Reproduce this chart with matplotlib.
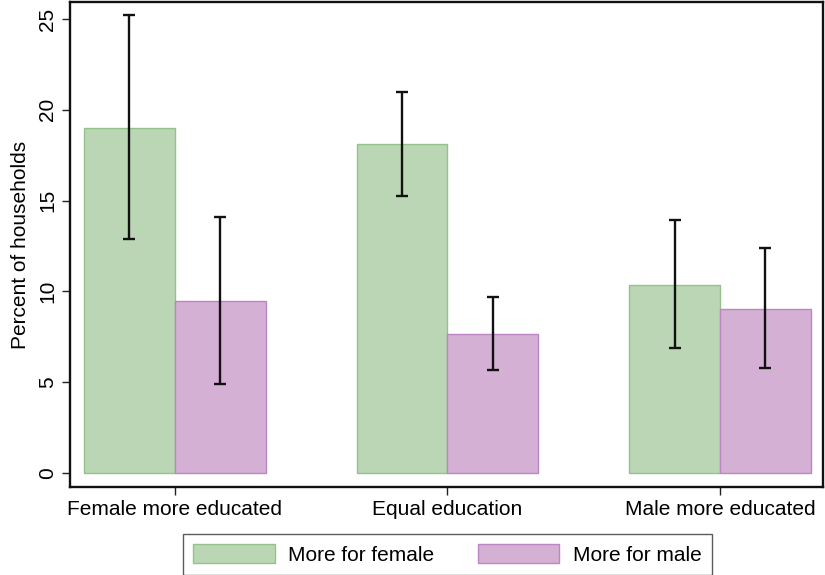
import matplotlib
matplotlib.use("Agg")
import matplotlib.pyplot as plt
import numpy as np

categories = ["Female more educated", "Equal education", "Male more educated"]
series = ["More for female", "More for male"]
female_vals = [19.0, 18.1, 10.35]
female_lo = [12.9, 15.25, 6.88]
female_hi = [25.2, 21.0, 13.93]
male_vals = [9.5, 7.65, 9.03]
male_lo = [4.9, 5.7, 5.78]
male_hi = [14.1, 9.7, 12.4]
yticks = [0, 5, 10, 15, 20, 25]

plt.rcParams['font.family'] = ['Liberation Sans', 'DejaVu Sans']

fig = plt.figure(figsize=(8.25, 5.75), dpi=100)
ax = fig.add_axes([0.0848, 0.153, 0.9128, 0.8435])

x = np.arange(len(categories))
w = 1/3
fills = ["#bad6b5", "#d5b0d5"]
edges = ["#93c28b", "#bb86c2"]

for i, (vals, lo, hi) in enumerate([(female_vals, female_lo, female_hi), (male_vals, male_lo, male_hi)]):
    pos = x - w/2 + i*w
    ax.bar(pos, vals, width=w, color=fills[i], edgecolor=edges[i], linewidth=1.0, label=series[i], zorder=2)
    vals = np.array(vals); lo = np.array(lo); hi = np.array(hi)
    ax.errorbar(pos, vals, yerr=[vals-lo, hi-vals], fmt='none', ecolor='#111111', elinewidth=1.7, capsize=4.5, capthick=1.7, zorder=3)

ax.set_xlim(-0.385, 2.378)
ax.set_ylim(-0.77, 25.94)
ax.set_xticks(x)
ax.set_xticklabels(categories, fontsize=15)
ax.set_yticks(yticks)
ax.set_yticklabels([str(t) for t in yticks], fontsize=15, rotation=90, va='center')
ax.set_ylabel("Percent of households", fontsize=15, labelpad=6)
for s in ax.spines.values():
    s.set_linewidth(1.7)
    s.set_color('#111111')
ax.tick_params(axis='both', direction='out', length=6, width=1.0, color='#222222')
ax.tick_params(axis='x', pad=3)
ax.tick_params(axis='y', pad=3)

leg = fig.legend(loc='lower center', bbox_to_anchor=(0.5424, -0.0185), ncol=2, frameon=True, fancybox=False,
                 fontsize=15, handlelength=3.9, handleheight=1.0, handletextpad=0.65, columnspacing=2.1,
                 borderpad=0.5, edgecolor='#333333')
leg.get_frame().set_linewidth(1.0)

fig.savefig("out.png", dpi=100)
